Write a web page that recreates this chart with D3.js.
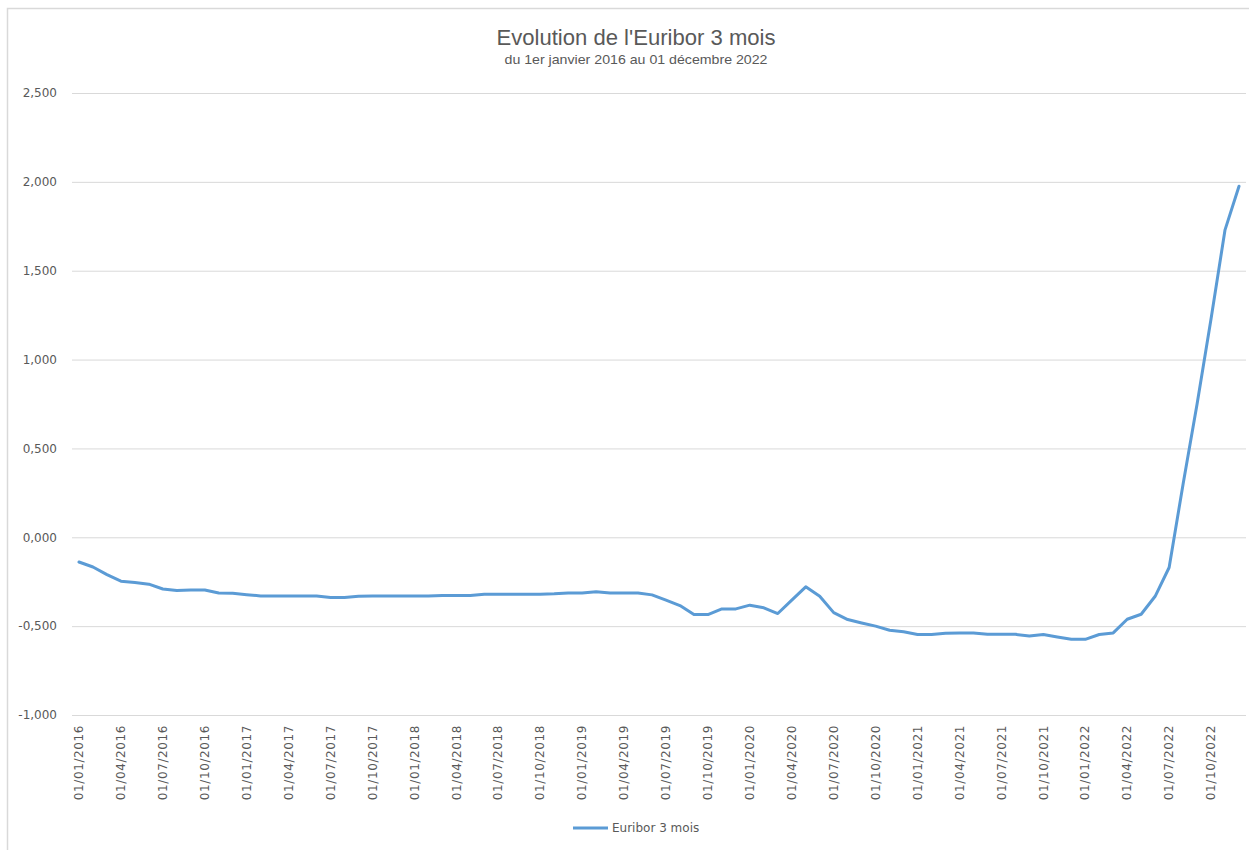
<!DOCTYPE html>
<html>
<head>
<meta charset="utf-8">
<script src="https://cdn.jsdelivr.net/npm/d3@7/dist/d3.min.js"></script>
<style>
  body { margin: 0; background: #fff; }
  svg { display: block; }
</style>
</head>
<body>
<div class="chart"></div>
<script>
var title = "Evolution de l'Euribor 3 mois";
var subtitle = 'du 1er janvier 2016 au 01 décembre 2022';
var seriesName = 'Euribor 3 mois';

// one point on the 1st of each month
var dates = [
  '01/01/2016', '01/02/2016', '01/03/2016', '01/04/2016', '01/05/2016', '01/06/2016', '01/07/2016', '01/08/2016', '01/09/2016', '01/10/2016', '01/11/2016', '01/12/2016',
  '01/01/2017', '01/02/2017', '01/03/2017', '01/04/2017', '01/05/2017', '01/06/2017', '01/07/2017', '01/08/2017', '01/09/2017', '01/10/2017', '01/11/2017', '01/12/2017',
  '01/01/2018', '01/02/2018', '01/03/2018', '01/04/2018', '01/05/2018', '01/06/2018', '01/07/2018', '01/08/2018', '01/09/2018', '01/10/2018', '01/11/2018', '01/12/2018',
  '01/01/2019', '01/02/2019', '01/03/2019', '01/04/2019', '01/05/2019', '01/06/2019', '01/07/2019', '01/08/2019', '01/09/2019', '01/10/2019', '01/11/2019', '01/12/2019',
  '01/01/2020', '01/02/2020', '01/03/2020', '01/04/2020', '01/05/2020', '01/06/2020', '01/07/2020', '01/08/2020', '01/09/2020', '01/10/2020', '01/11/2020', '01/12/2020',
  '01/01/2021', '01/02/2021', '01/03/2021', '01/04/2021', '01/05/2021', '01/06/2021', '01/07/2021', '01/08/2021', '01/09/2021', '01/10/2021', '01/11/2021', '01/12/2021',
  '01/01/2022', '01/02/2022', '01/03/2022', '01/04/2022', '01/05/2022', '01/06/2022', '01/07/2022', '01/08/2022', '01/09/2022', '01/10/2022', '01/11/2022', '01/12/2022'
];

var euribor = [
  -0.139, -0.167, -0.210, -0.247, -0.255, -0.264, -0.291, -0.300, -0.297, -0.297, -0.313, -0.315,
  -0.323, -0.330, -0.330, -0.330, -0.330, -0.330, -0.339, -0.339, -0.332, -0.330, -0.330, -0.330,
  -0.330, -0.330, -0.328, -0.328, -0.328, -0.321, -0.320, -0.320, -0.320, -0.320, -0.318, -0.313,
  -0.313, -0.306, -0.313, -0.313, -0.313, -0.324, -0.354, -0.384, -0.435, -0.435, -0.403, -0.403,
  -0.382, -0.397, -0.429, -0.354, -0.279, -0.332, -0.424, -0.463, -0.482, -0.500, -0.523, -0.532,
  -0.547, -0.547, -0.540, -0.538, -0.538, -0.546, -0.546, -0.546, -0.555, -0.547, -0.561, -0.574,
  -0.574, -0.547, -0.538, -0.461, -0.433, -0.332, -0.170, 0.300, 0.750, 1.230, 1.730, 1.975
];

var yTicks = [-1, -0.5, 0, 0.5, 1, 1.5, 2, 2.5];

var fullWidth = 1249;
var fullHeight = 850;
var plot = { left: 72, right: 1246, top: 93, bottom: 715 };
var textColor = '#595959';
var gridColor = '#d9d9d9';
var lineColor = '#5b9bd5';
var font = "'DejaVu Sans', sans-serif";

// decimal comma like the french excel sheet
var frLocale = d3.formatLocale({ decimal: ',', thousands: ' ', grouping: [3], currency: ['', ' €'], minus: '-' });
var fmt = frLocale.format('.3f');

var data = dates.map((d, i) => ({ date: d, value: euribor[i] }));

var svg = d3.select('.chart')
  .append('svg')
  .attr('width', fullWidth)
  .attr('height', fullHeight)
  .style('font-family', font);

svg.append('rect')
  .attr('width', fullWidth)
  .attr('height', fullHeight)
  .style('fill', '#fff');

// chart area border (runs off the right/bottom edge)
svg.append('rect')
  .attr('x', 7.5)
  .attr('y', 8.5)
  .attr('width', fullWidth + 20)
  .attr('height', fullHeight + 20)
  .style('fill', 'none')
  .style('stroke', gridColor)
  .style('stroke-width', 1.5);

var xScale = d3.scaleBand()
  .domain(dates)
  .range([plot.left, plot.right]);

var yScale = d3.scaleLinear()
  .domain([-1, 2.5])
  .range([plot.bottom, plot.top]);

// horizontal gridlines + y labels
var yAxis = d3.axisLeft(yScale)
  .tickValues(yTicks)
  .tickSize(-(plot.right - plot.left))
  .tickPadding(15)
  .tickFormat(fmt);

var gy = svg.append('g')
  .attr('transform', `translate(${plot.left}, 0)`)
  .call(yAxis);

gy.select('.domain').remove();
gy.selectAll('line').style('stroke', gridColor).style('stroke-width', 1);
gy.selectAll('text')
  .style('fill', textColor)
  .style('font-family', font)
  .style('font-size', '12px');

// x labels, every quarter, rotated
var xAxis = d3.axisBottom(xScale)
  .tickValues(dates.filter((d, i) => i % 3 === 0))
  .tickSize(0)
  .tickPadding(0);

var gx = svg.append('g')
  .attr('transform', `translate(0, ${plot.bottom})`)
  .call(xAxis);

gx.select('.domain').remove();
gx.selectAll('text')
  .attr('transform', 'translate(0, 10) rotate(-90)')
  .attr('x', 0)
  .attr('y', 0)
  .attr('dy', '0.35em')
  .style('text-anchor', 'end')
  .style('fill', textColor)
  .style('font-family', font)
  .style('font-size', '12px')
  .style('letter-spacing', '0.6px');

// the series line
var line = d3.line()
  .x(d => xScale(d.date) + xScale.bandwidth() / 2)
  .y(d => yScale(d.value));

svg.append('path')
  .datum(data)
  .attr('class', 'line')
  .attr('d', line)
  .style('stroke', lineColor)
  .style('stroke-width', 3)
  .style('stroke-linejoin', 'round')
  .style('stroke-linecap', 'round')
  .style('fill', 'none');

// title
svg.append('text')
  .attr('x', 636)
  .attr('y', 45)
  .attr('textLength', 279)
  .attr('lengthAdjust', 'spacingAndGlyphs')
  .style('text-anchor', 'middle')
  .style('fill', textColor)
  .style('font-family', "'Liberation Sans Narrow', 'Liberation Sans', sans-serif")
  .style('font-size', '22px')
  .text(title);

svg.append('text')
  .attr('x', 636)
  .attr('y', 64)
  .attr('textLength', 263)
  .attr('lengthAdjust', 'spacingAndGlyphs')
  .style('text-anchor', 'middle')
  .style('fill', textColor)
  .style('font-family', "'Liberation Sans Narrow', 'Liberation Sans', sans-serif")
  .style('font-size', '13px')
  .text(subtitle);

drawLegend(svg, lineColor, seriesName, 573, 828);

function drawLegend(svg, color, text, x, y) {
  svg.append('line')
    .attr('x1', x)
    .attr('x2', x + 35)
    .attr('y1', y)
    .attr('y2', y)
    .style('stroke', color)
    .style('stroke-width', 3);

  svg.append('text')
    .attr('x', x + 39)
    .attr('y', y)
    .attr('dy', '0.35em')
    .style('fill', textColor)
    .style('font-size', '12px')
    .text(text);
}
</script>
</body>
</html>
